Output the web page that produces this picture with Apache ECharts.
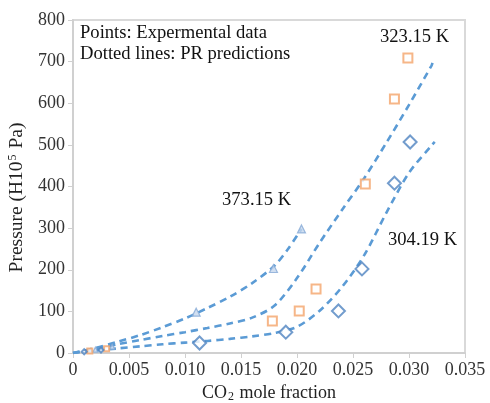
<!DOCTYPE html>
<html>
<head>
<meta charset="utf-8">
<script src="https://cdn.jsdelivr.net/npm/echarts@6/dist/echarts.min.js"></script>
<style>html,body{margin:0;padding:0;background:#fff}#c{width:490px;height:403px}</style>
</head>
<body>
<div id="c"></div>
<script>
// Experimental points [CO2 mole fraction, pressure]
var exp304 = [[0.0010,3],[0.0025,7],[0.0113,24],[0.0190,50],[0.0237,101],[0.0258,202],[0.0287,408],[0.0301,507]];
var exp323 = [[0.0015,5],[0.0030,10],[0.0178,77],[0.0202,101],[0.0217,154],[0.0261,406],[0.0287,610],[0.0299,709]];
var exp373 = [[0.0020,8],[0.0035,15],[0.0110,98],[0.0179,203],[0.0204,298]];
// PR predictions
var pr304 = [[0,0],[0.002,6],[0.004,11],[0.006,16],[0.008,21],[0.010,25],[0.012,29],[0.014,34],[0.016,40],[0.018,48],[0.020,63],[0.022,101],[0.024,158],[0.026,235],[0.028,338],[0.030,433],[0.032,498],[0.0323,507]];
var pr323 = [[0,0],[0.002,10],[0.004,21],[0.006,31],[0.008,41],[0.010,50],[0.012,60],[0.014,71],[0.016,85],[0.018,114],[0.020,180],[0.022,264],[0.024,343],[0.026,420],[0.028,506],[0.030,596],[0.032,690],[0.0321,697]];
var pr373 = [[0,0],[0.002,12],[0.004,27],[0.006,43],[0.008,62],[0.010,83],[0.012,108],[0.014,135],[0.016,168],[0.018,210],[0.0192,250],[0.0204,298]];
var xTicks = {min:0, max:0.035, interval:0.005};
var yTicks = {min:0, max:800, interval:100};

var font = 'Liberation Serif, Times New Roman, serif';
var chart = echarts.init(document.getElementById('c'), null, {renderer:'canvas'});
function dashed(d){
  return {type:'line', data:d, smooth:0.3, showSymbol:false, symbol:'none', z:2,
    lineStyle:{color:'#5b9bd5', width:2.6, type:[7,5]}};
}
function sz(big){ return function(v){ return v[0] < 0.005 ? 5 : big; }; }
chart.setOption({
  animation:false,
  grid:{left:73, right:25, top:20, bottom:50, outerBoundsMode:'none', containLabel:false, show:true, borderColor:'#d9d9d9', borderWidth:2},
  xAxis:{type:'value', min:xTicks.min, max:xTicks.max, interval:xTicks.interval,
    axisLine:{show:true, lineStyle:{color:'#d0d0d0', width:2}},
    axisTick:{show:true, length:5, lineStyle:{color:'#d0d0d0'}},
    splitLine:{show:false},
    axisLabel:{fontFamily:font, fontSize:18, color:'#333', margin:8,
      formatter:function(v){return v===0?'0':v.toFixed(3);}},
    name:'{a|CO}{s|2}{a| mole fraction}', nameLocation:'middle', nameGap:28,
    nameTextStyle:{rich:{a:{fontFamily:font, fontSize:18, color:'#222'}, s:{fontFamily:font, fontSize:12, color:'#222', padding:[8,1,0,1]}}}
  },
  yAxis:{type:'value', min:yTicks.min, max:yTicks.max, interval:yTicks.interval,
    axisLine:{show:true, lineStyle:{color:'#d0d0d0', width:2}},
    axisTick:{show:true, length:5, lineStyle:{color:'#d0d0d0'}},
    splitLine:{show:false},
    axisLabel:{fontFamily:font, fontSize:18, color:'#333', margin:8},
    name:'{a|Pressure (H10}{s|5}{a| Pa)}', nameLocation:'middle', nameGap:44, nameRotate:90,
    nameTextStyle:{padding:[0,22,0,0], rich:{a:{fontFamily:font, fontSize:19.5, color:'#222'}, s:{fontFamily:font, fontSize:12, color:'#222', padding:[0,1,8,1]}}}
  },
  series:[
    dashed(pr373), dashed(pr323), dashed(pr304),
    {type:'scatter', data:exp373, symbol:'triangle', symbolSize:sz(8), z:3,
      itemStyle:{color:'#c5d7ee', borderColor:'#85a9d6', borderWidth:1.2}},
    {type:'scatter', data:exp323, symbol:'rect', symbolSize:sz(9), z:3,
      itemStyle:{color:'#ffffff', borderColor:'#f4a46a', borderWidth:2}},
    {type:'scatter', data:exp304, symbol:'diamond', symbolSize:sz(13), z:3,
      itemStyle:{color:'#ffffff', borderColor:'#4f83c0', borderWidth:2}}
  ],
  graphic:[
    {type:'text', left:80, top:24, style:{text:'Points: Expermental data', font:'18.6px '+font, fill:'#111'}},
    {type:'text', left:80, top:45, style:{text:'Dotted lines: PR predictions', font:'18.6px '+font, fill:'#111'}},
    {type:'text', left:380, top:28, style:{text:'323.15 K', font:'18.6px '+font, fill:'#111'}},
    {type:'text', left:222, top:191, style:{text:'373.15 K', font:'18.6px '+font, fill:'#111'}},
    {type:'text', left:388, top:231, style:{text:'304.19 K', font:'18.6px '+font, fill:'#111'}}
  ]
});
</script>
</body>
</html>
